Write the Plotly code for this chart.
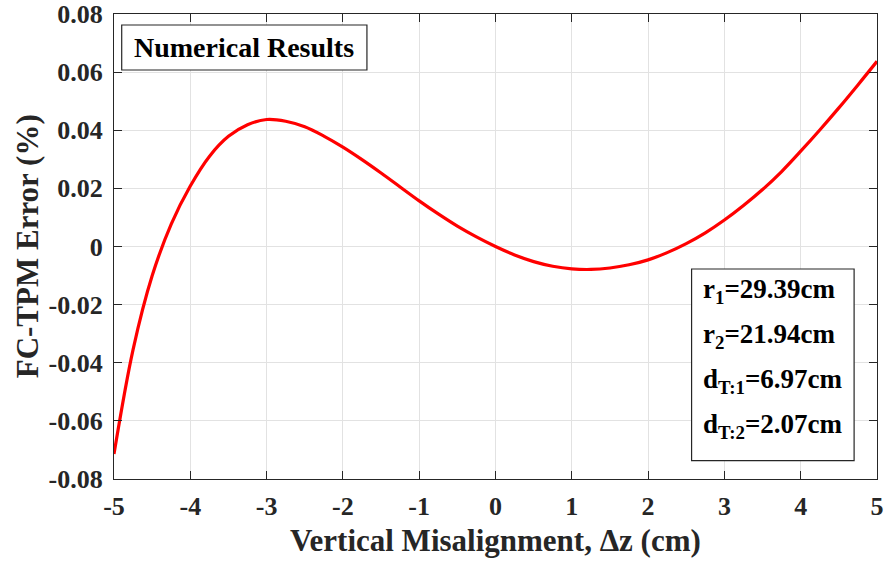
import plotly.graph_objects as go

# Vertical misalignment (cm), sampled every 0.25 cm, and FC-TPM error (%)
dz = [-5.0, -4.75, -4.5, -4.25, -4.0, -3.75, -3.5, -3.25, -3.0, -2.75,
      -2.5, -2.25, -2.0, -1.75, -1.5, -1.25, -1.0, -0.75, -0.5, -0.25,
      0.0, 0.25, 0.5, 0.75, 1.0, 1.25, 1.5, 1.75, 2.0, 2.25, 2.5, 2.75,
      3.0, 3.25, 3.5, 3.75, 4.0, 4.25, 4.5, 4.75, 5.0]
err = [-0.0714, -0.0355, -0.0101, 0.0077, 0.0208, 0.0310, 0.0379, 0.0419,
       0.0437, 0.0431, 0.0412, 0.0380, 0.0342, 0.0299, 0.0253, 0.0205,
       0.0157, 0.0112, 0.0070, 0.0033, 0.0, -0.0029, -0.0052, -0.0068,
       -0.0077, -0.0079, -0.0074, -0.0063, -0.0046, -0.0021, 0.0010,
       0.0047, 0.0091, 0.0141, 0.0196, 0.0258, 0.0328, 0.0401, 0.0477,
       0.0556, 0.0637]

x_ticks = [-5, -4, -3, -2, -1, 0, 1, 2, 3, 4, 5]
x_labels = ["-5", "-4", "-3", "-2", "-1", "0", "1", "2", "3", "4", "5"]
y_ticks = [-0.08, -0.06, -0.04, -0.02, 0.0, 0.02, 0.04, 0.06, 0.08]
y_labels = ["-0.08", "-0.06", "-0.04", "-0.02", "0", "0.02", "0.04", "0.06", "0.08"]

params = [("r", "1", "29.39cm"), ("r", "2", "21.94cm"),
          ("d", "T:1", "6.97cm"), ("d", "T:2", "2.07cm")]

FONT = "Liberation Serif, Times New Roman, serif"
AXC = "#262626"
GRID = "#e2e2e2"

fig = go.Figure()
fig.add_trace(go.Scatter(x=dz, y=err, mode="lines",
                         line=dict(color="#ff0000", width=3.2, shape="spline", smoothing=1.0),
                         showlegend=False, hoverinfo="skip"))

axis_common = dict(showline=True, linecolor=AXC, linewidth=1.2, mirror="ticks",
                   ticks="inside", ticklen=8, tickwidth=1, tickcolor=AXC,
                   showgrid=True, gridcolor=GRID, gridwidth=1, zeroline=False,
                   automargin=False,
                   tickfont=dict(family=FONT, size=26, color=AXC, weight="bold"))

fig.update_xaxes(range=[-5, 5], tickvals=x_ticks, ticktext=x_labels,
                 ticklabelstandoff=4, **axis_common)
fig.update_yaxes(range=[-0.08, 0.08], tickvals=y_ticks, ticktext=y_labels,
                 ticklabelstandoff=5, **axis_common)

annotations = [
    dict(text="Vertical Misalignment, \u0394z (cm)", x=0.5, y=-0.133, xref="paper", yref="paper",
         xanchor="center", yanchor="middle", showarrow=False,
         font=dict(family=FONT, size=31, color=AXC, weight="bold")),
    dict(text="FC-TPM Error (%)", x=-0.113, y=0.5, xref="paper", yref="paper",
         xanchor="center", yanchor="middle", showarrow=False, textangle=-90,
         font=dict(family=FONT, size=31, color=AXC, weight="bold")),
    dict(text="Numerical Results", x=0.171, y=0.928, xref="paper", yref="paper",
         xanchor="center", yanchor="middle", showarrow=False,
         font=dict(family=FONT, size=28, color="#000000", weight="bold")),
]

line_y = [0.405, 0.308, 0.211, 0.114]
for (base, sub, val), yy in zip(params, line_y):
    annotations.append(dict(
        text=f"{base}<sub>{sub}</sub>={val}", x=0.769, y=yy, xref="paper", yref="paper",
        xanchor="left", yanchor="middle", showarrow=False,
        font=dict(family=FONT, size=27, color="#000000", weight="bold")))

shapes = [
    dict(type="rect", xref="paper", yref="paper", x0=0.0101, x1=0.3315, y0=0.8796, y1=0.9763,
         line=dict(color="#262626", width=1.2), fillcolor="white", layer="above"),
    dict(type="rect", xref="paper", yref="paper", x0=0.757, x1=0.970, y0=0.0394, y1=0.4516,
         line=dict(color="#262626", width=1.2), fillcolor="white", layer="above"),
]

fig.update_layout(width=887, height=562, margin=dict(l=114, r=10, t=14, b=83),
                  paper_bgcolor="white", plot_bgcolor="white",
                  annotations=annotations, shapes=shapes)

fig.write_html("out.html")
